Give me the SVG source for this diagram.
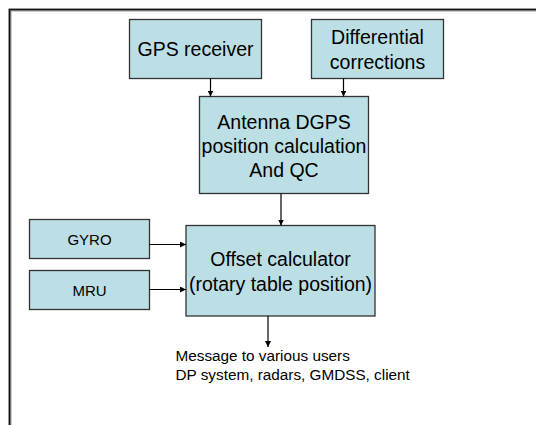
<svg xmlns="http://www.w3.org/2000/svg" width="536" height="425" viewBox="0 0 536 425">
  <style>
    .box { fill: #bbdfe4; stroke: #333; stroke-width: 1.3; }
    .lbl { font-family: "Liberation Sans", Arial, sans-serif; fill: #000; text-anchor: middle; }
    .big { font-size: 19.5px; }
    .small { font-size: 15px; }
    .note { font-family: "Liberation Sans", Arial, sans-serif; font-size: 15.3px; fill: #000; }
    .wire { stroke: #000; stroke-width: 1.2; fill: none; marker-end: url(#head); }
  </style>
  <defs>
    <marker id="head" viewBox="0 0 8 8" refX="8" refY="4" markerWidth="6" markerHeight="6" markerUnits="userSpaceOnUse" orient="auto">
      <path d="M0,0 L8,4 L0,8 Z" fill="#000"/>
    </marker>
  </defs>
  <rect width="536" height="425" fill="#fff"/>

  <!-- page frame (top and left edges only) -->
  <g id="frame">
    <path d="M10,425 V10 H536" stroke="#999" stroke-width="3" fill="none"/>
    <path d="M9.5,425 V9.5 H536" stroke="#111" stroke-width="1.6" fill="none"/>
  </g>

  <g id="gps-receiver">
    <rect class="box" x="129.5" y="19.5" width="132" height="59"/>
    <text class="lbl big" x="195.5" y="56">GPS receiver</text>
  </g>

  <g id="differential-corrections">
    <rect class="box" x="311.5" y="19.5" width="132" height="59"/>
    <text class="lbl big" x="377.5" y="44">Differential</text>
    <text class="lbl big" x="377.5" y="68.5">corrections</text>
  </g>

  <g id="antenna-dgps">
    <rect class="box" x="199.5" y="96.5" width="169" height="97"/>
    <text class="lbl big" x="284" y="128.5">Antenna DGPS</text>
    <text class="lbl big" x="284" y="153">position calculation</text>
    <text class="lbl big" x="284" y="177">And QC</text>
  </g>

  <g id="gyro">
    <rect class="box" x="29.5" y="219.5" width="120" height="39"/>
    <text class="lbl small" x="89.5" y="245">GYRO</text>
  </g>

  <g id="mru">
    <rect class="box" x="29.5" y="270.5" width="120" height="39"/>
    <text class="lbl small" x="89.5" y="296">MRU</text>
  </g>

  <g id="offset-calculator">
    <rect class="box" x="186" y="225.5" width="189" height="90.5"/>
    <text class="lbl big" x="280.5" y="265.5">Offset calculator</text>
    <text class="lbl big" x="280.5" y="291">(rotary table position)</text>
  </g>

  <g id="connectors">
    <line class="wire" x1="210.5" y1="78.5" x2="210.5" y2="96.5"/>
    <line class="wire" x1="343.5" y1="78.5" x2="343.5" y2="96.5"/>
    <line class="wire" x1="281" y1="193.5" x2="281" y2="225.5"/>
    <line class="wire" x1="149.5" y1="244.5" x2="186" y2="244.5"/>
    <line class="wire" x1="149.5" y1="289.5" x2="186" y2="289.5"/>
    <line class="wire" x1="268" y1="316" x2="268" y2="347"/>
  </g>

  <g id="output-note">
    <text class="note" x="175.5" y="360.5">Message to various users</text>
    <text class="note" x="175.5" y="379.5">DP system, radars, GMDSS, client</text>
  </g>
</svg>
